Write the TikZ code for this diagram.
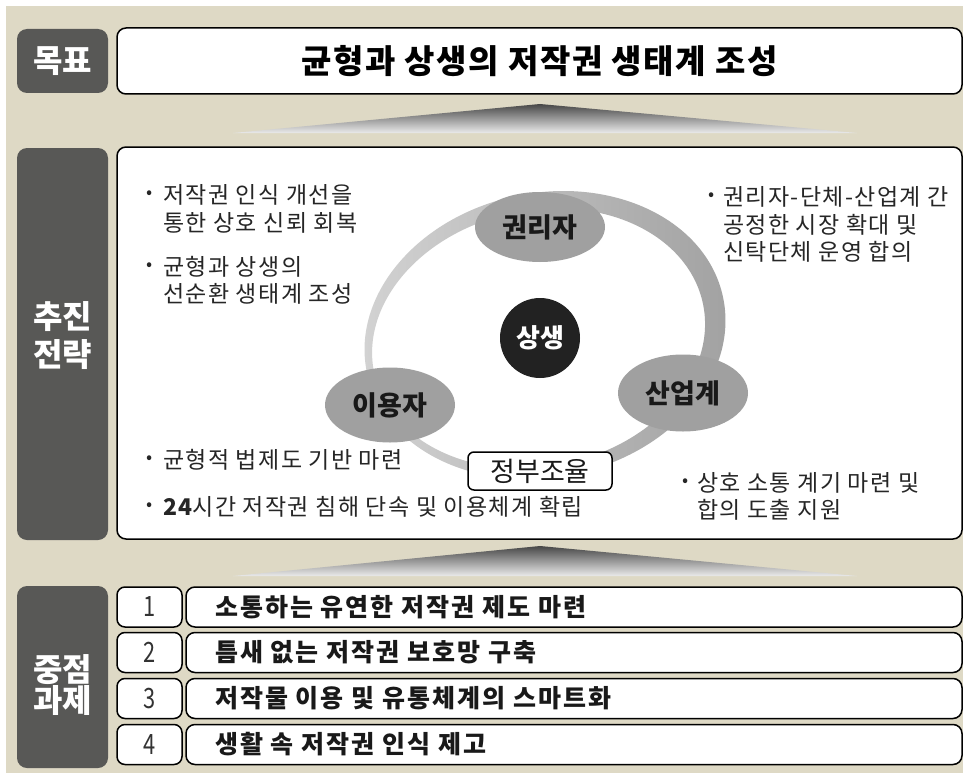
\documentclass[tikz,border=0pt]{standalone}
\usepackage{graphicx}
\usepackage{fontspec}
\setmainfont{Noto Sans CJK KR}
\newfontfamily\bodyfont[LetterSpace=6]{Noto Sans CJK KR}
\newfontfamily\taskfont[LetterSpace=8]{Noto Sans CJK KR}
\newfontfamily\titlefont[LetterSpace=5]{Noto Sans CJK KR}
\usetikzlibrary{shapes.geometric}
\definecolor{bgc}{RGB}{222,217,197}
\definecolor{darklab}{RGB}{88,88,86}
\definecolor{ellc}{RGB}{160,160,160}
\definecolor{coreC}{RGB}{34,34,34}
\newcommand\fsz[2]{\fontsize{#1}{#2}\selectfont}
\newcommand\narrowdigit[1]{\scalebox{0.78}[1]{#1}}
\begin{document}
\begin{tikzpicture}[x=1pt,y=-1pt,
  darkbox/.style={fill=darklab, rounded corners=10pt, minimum width=91pt, inner sep=0pt},
  labtext/.style={text=white, font=\bfseries\fsz{32}{38}, align=center, inner sep=0pt},
  wbox/.style={draw=black, line width=1.5pt, fill=white, rounded corners=9pt, inner sep=0pt},
  numbox/.style={wbox, rounded corners=8pt, minimum width=65pt, minimum height=40pt, font=\fsz{28}{28}, text=black!80},
  taskbox/.style={wbox, minimum width=776pt, minimum height=40pt},
  tasktext/.style={anchor=base west, inner sep=0pt, font=\taskfont\bfseries\fsz{25}{25}, text=black!90},
  ell/.style={ellipse, fill=ellc, minimum width=130pt, inner sep=0pt, font=\bfseries\fsz{27}{27}, text=black!90},
  core/.style={circle, fill=coreC, minimum size=80pt, inner sep=0pt, font=\bfseries\fsz{26}{26}, text=white},
  govbox/.style={draw=black, line width=1.5pt, fill=white, rounded corners=6pt, minimum width=144pt, minimum height=38pt, inner sep=0pt, font=\fsz{27}{27}, text=black!90},
  btxt/.style={anchor=base west, inner sep=0pt, font=\bodyfont\fsz{23}{23}, text=black!85},
  bul/.style={inner sep=0pt, font=\fsz{18}{18}, text=black!85},
  arrowshade/.style={top color=black!72, bottom color=black!8}
]
\useasboundingbox (0,0) rectangle (963,773);
\fill[bgc] (6,6) rectangle (963,773);

% ---------- row 1: goal ----------
\node[darkbox, minimum height=64pt] (goalLab) at (62.5,61) {};
\node[labtext] (goalLabT) at (62.5,61) {목표};
\node[wbox, minimum width=845pt, minimum height=66pt, font=\titlefont\bfseries\fsz{33}{33}] (goal) at (539.5,61) {균형과 상생의 저작권 생태계 조성};

\shade[arrowshade] (233,133) -- (540,104) -- (857,133) -- cycle;

% ---------- row 2: strategy ----------
\node[darkbox, minimum height=392pt] (stratLab) at (62.5,344) {};
\node[labtext] (stratLabT) at (62.5,336) {추진\\전략};
\node[wbox, minimum width=845pt, minimum height=392pt] (strat) at (539.5,343) {};

% ring
\path[even odd rule, left color=black!17, right color=black!37]
  [rotate around={12:(545,335)}]
  (545,335) ellipse [x radius=182, y radius=142]
  (538,337) ellipse [x radius=168, y radius=128];

\node[ell, minimum height=70pt] (kwon) at (540,227) {권리자};
\node[ell, minimum height=75pt] (user) at (390,405) {이용자};
\node[ell, minimum height=77pt] (ind) at (683,393) {산업계};
\node[core] (sang) at (540,338) {상생};
\node[govbox] (gov) at (540,471) {정부조율};

% bullet texts
\node[bul] (b1) at (150,195) {•};
\node[btxt] (t1a) at (163,203) {저작권 인식 개선을};
\node[btxt] (t1b) at (163,231) {통한 상호 신뢰 회복};
\node[bul] (b2) at (150,267) {•};
\node[btxt] (t2a) at (163,275) {균형과 상생의};
\node[btxt] (t2b) at (163,302) {선순환 생태계 조성};

\node[bul] (b3) at (712,197) {•};
\node[btxt] (t3a) at (723,205) {권리자-단체-산업계 간};
\node[btxt] (t3b) at (723,233) {공정한 시장 확대 및};
\node[btxt] (t3c) at (723,260) {신탁단체 운영 합의};

\node[bul] (b4) at (150,460) {•};
\node[btxt] (t4) at (163,468) {균형적 법제도 기반 마련};
\node[bul] (b5) at (150,507) {•};
\node[btxt] (t5) at (163,515) {{\bfseries 24}시간 저작권 침해 단속 및 이용체계 확립};

\node[bul] (b6) at (686,483) {•};
\node[btxt] (t6a) at (697,491) {상호 소통 계기 마련 및};
\node[btxt] (t6b) at (697,518) {합의 도출 지원};

\shade[arrowshade] (233,576) -- (540,546) -- (857,576) -- cycle;

% ---------- row 3: tasks ----------
\node[darkbox, minimum height=182pt] (taskLab) at (62.5,677) {};
\node[labtext, font=\bfseries\fsz{32}{31}] (taskLabT) at (62.5,685) {중점\\과제};

\node[numbox] (n1) at (149.5,607) {\narrowdigit{1}};
\node[numbox] (n2) at (149.5,652.5) {\narrowdigit{2}};
\node[numbox] (n3) at (149.5,698.5) {\narrowdigit{3}};
\node[numbox] (n4) at (149.5,744.5) {\narrowdigit{4}};

\node[taskbox] (k1) at (574,607) {};
\node[taskbox] (k2) at (574,652.5) {};
\node[taskbox] (k3) at (574,698.5) {};
\node[taskbox] (k4) at (574,744.5) {};

\node[tasktext] (k1t) at (215,616) {소통하는 유연한 저작권 제도 마련};
\node[tasktext] (k2t) at (215,661.5) {틈새 없는 저작권 보호망 구축};
\node[tasktext] (k3t) at (215,707.5) {저작물 이용 및 유통체계의 스마트화};
\node[tasktext] (k4t) at (215,753.5) {생활 속 저작권 인식 제고};
\end{tikzpicture}
\end{document}
